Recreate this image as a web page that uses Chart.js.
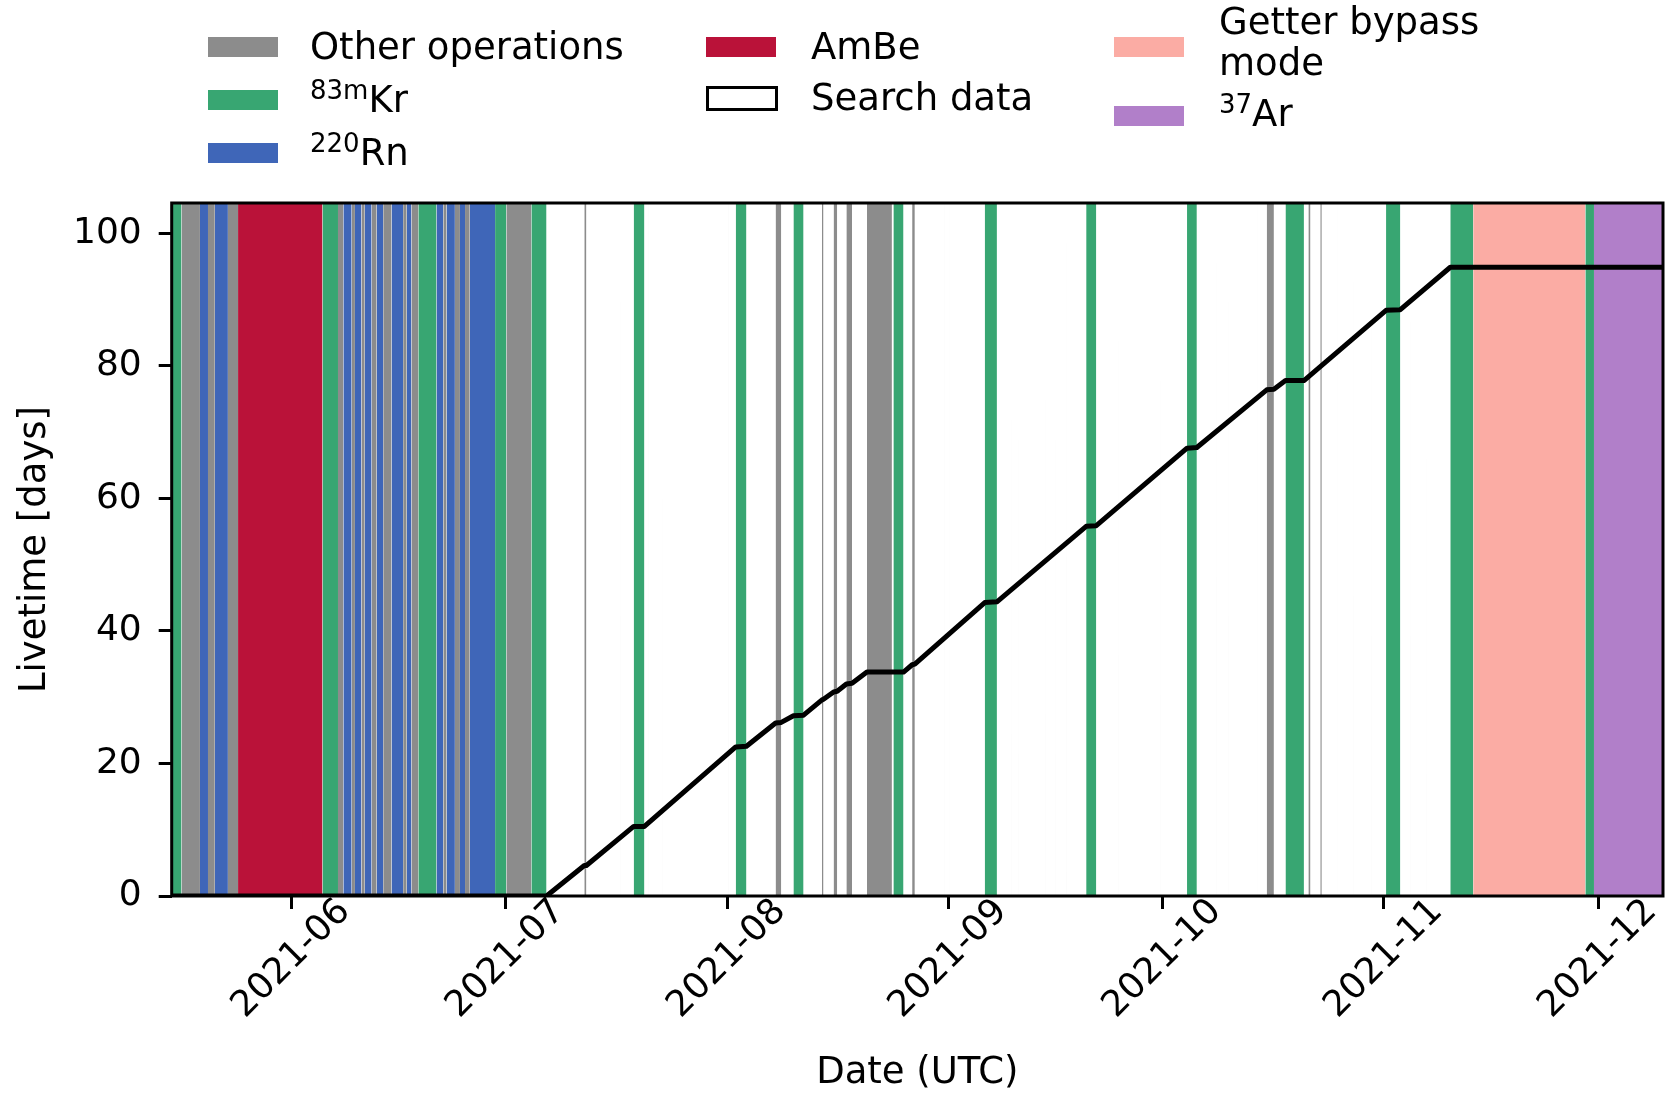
<!DOCTYPE html>
<html>
<head>
<meta charset="utf-8">
<script src="https://cdn.jsdelivr.net/npm/chart.js@4.4.1/dist/chart.umd.min.js"></script>
<style>
  body { margin: 0; background: #fff; font-family: "DejaVu Sans", sans-serif; }
  #wrap { position: relative; width: 1666px; height: 1096px; }
  #legend > span { position: absolute; }
  .sw { width: 70px; height: 20px; }
  .outline { width: 72px; height: 25px; box-sizing: border-box; border: 3px solid #000; background: #fff; }
  .lab { font-size: 37px; line-height: 37px; color: #000; white-space: nowrap; }
  .lab sup { font-size: 26px; line-height: 0; vertical-align: 13px; }
</style>
</head>
<body>
<div id="wrap">
  <canvas id="c" width="1666" height="1096"></canvas>
  <div id="legend">
    <span class="sw" style="left:208px;top:37px;background:#8c8c8c"></span>
    <span class="lab" style="left:310px;top:28px">Other operations</span>
    <span class="sw" style="left:208px;top:90px;background:#38a672"></span>
    <span class="lab" style="left:310px;top:81px"><sup>83m</sup>Kr</span>
    <span class="sw" style="left:208px;top:143px;background:#3f66b8"></span>
    <span class="lab" style="left:310px;top:134px"><sup>220</sup>Rn</span>

    <span class="sw" style="left:706px;top:37px;background:#ba1239"></span>
    <span class="lab" style="left:811px;top:28px">AmBe</span>
    <span class="outline" style="left:706px;top:86px"></span>
    <span class="lab" style="left:811px;top:79px">Search data</span>

    <span class="sw" style="left:1114px;top:37px;background:#fbaca4"></span>
    <span class="lab" style="left:1219px;top:3px">Getter bypass</span>
    <span class="lab" style="left:1219px;top:44px">mode</span>
    <span class="sw" style="left:1114px;top:106px;background:#b17fc9"></span>
    <span class="lab" style="left:1219px;top:95px"><sup>37</sup>Ar</span>
  </div>
</div>
<script>
// axis extent and ticks
const monthTicks = ['2021-06', '2021-07', '2021-08', '2021-09', '2021-10', '2021-11', '2021-12'];
const yTicks = [0, 20, 40, 60, 80, 100];
const xStart = '2021-05-15 05:00';
const xEnd = '2021-12-10 02:00';
const yTop = 104.6;

// detector periods, [start, end] in UTC
const otherBands = [
  ['2021-05-16 14:00', '2021-05-19 04:00'],
  ['2021-05-20 07:00', '2021-05-21 06:00'],
  ['2021-05-23 02:00', '2021-05-24 12:00'],
  ['2021-06-07 12:00', '2021-06-08 06:00'],
  ['2021-06-09 10:00', '2021-06-09 21:00'],
  ['2021-06-10 19:00', '2021-06-11 06:00'],
  ['2021-06-12 05:00', '2021-06-12 22:00'],
  ['2021-06-13 20:00', '2021-06-15 00:00'],
  ['2021-06-16 15:00', '2021-06-17 03:00'],
  ['2021-06-17 19:00', '2021-06-18 18:00'],
  ['2021-06-22 06:00', '2021-06-22 17:00'],
  ['2021-06-23 21:00', '2021-06-24 14:00'],
  ['2021-06-25 07:00', '2021-06-25 23:00'],
  ['2021-07-01 02:00', '2021-07-04 14:00'],
  ['2021-07-12 00:00', '2021-07-12 07:00'],
  ['2021-08-07 19:00', '2021-08-08 14:00'],
  ['2021-08-14 07:00', '2021-08-14 12:00'],
  ['2021-08-15 22:00', '2021-08-16 10:00'],
  ['2021-08-17 17:00', '2021-08-18 12:00'],
  ['2021-08-20 14:00', '2021-08-24 02:00'],
  ['2021-08-26 22:00', '2021-08-27 07:00'],
  ['2021-10-15 14:00', '2021-10-16 14:00'],
  ['2021-10-21 10:00', '2021-10-21 17:00'],
  ['2021-10-23 02:00', '2021-10-23 07:00']
];
// short interruptions inside search data
const briefOps = [
  ['2021-07-17 00:00', '2021-07-17 00:30'],
  ['2021-07-20 22:00', '2021-07-20 22:30'],
  ['2021-07-23 00:00', '2021-07-23 00:30'],
  ['2021-08-01 03:00', '2021-08-01 03:30'],
  ['2021-08-07 00:00', '2021-08-07 00:30'],
  ['2021-08-31 12:00', '2021-08-31 12:30'],
  ['2021-09-01 05:00', '2021-09-01 05:30'],
  ['2021-09-09 21:00', '2021-09-09 21:30'],
  ['2021-09-10 18:00', '2021-09-10 18:30'],
  ['2021-09-14 13:00', '2021-09-14 13:30'],
  ['2021-09-15 23:00', '2021-09-15 23:30'],
  ['2021-09-17 14:00', '2021-09-17 14:30'],
  ['2021-09-24 18:00', '2021-09-24 18:30'],
  ['2021-09-30 16:00', '2021-09-30 16:30'],
  ['2021-10-08 14:00', '2021-10-08 14:30'],
  ['2021-10-10 04:00', '2021-10-10 04:30'],
  ['2021-10-14 05:00', '2021-10-14 05:30'],
  ['2021-10-25 10:00', '2021-10-25 10:30'],
  ['2021-10-27 16:00', '2021-10-27 16:30'],
  ['2021-10-30 07:00', '2021-10-30 07:30'],
  ['2021-11-04 16:00', '2021-11-04 16:30'],
  ['2021-11-07 00:00', '2021-11-07 00:30']
];
const krBands = [
  ['2021-05-15 05:00', '2021-05-16 14:00'],
  ['2021-06-05 08:00', '2021-06-07 12:00'],
  ['2021-06-18 18:00', '2021-06-21 07:00'],
  ['2021-06-29 12:00', '2021-07-01 02:00'],
  ['2021-07-04 14:00', '2021-07-06 17:00'],
  ['2021-07-18 22:00', '2021-07-20 10:00'],
  ['2021-08-02 05:00', '2021-08-03 17:00'],
  ['2021-08-10 07:00', '2021-08-11 17:00'],
  ['2021-08-24 07:00', '2021-08-25 17:00'],
  ['2021-09-06 02:00', '2021-09-07 19:00'],
  ['2021-09-20 07:00', '2021-09-21 17:00'],
  ['2021-10-04 10:00', '2021-10-05 19:00'],
  ['2021-10-18 05:00', '2021-10-20 19:00'],
  ['2021-11-01 07:00', '2021-11-03 07:00'],
  ['2021-11-10 07:00', '2021-11-13 12:00'],
  ['2021-11-29 05:00', '2021-11-30 10:00']
];
const rnBands = [
  ['2021-05-19 04:00', '2021-05-20 07:00'],
  ['2021-05-21 06:00', '2021-05-23 02:00'],
  ['2021-06-08 06:00', '2021-06-09 10:00'],
  ['2021-06-09 21:00', '2021-06-10 19:00'],
  ['2021-06-11 06:00', '2021-06-12 05:00'],
  ['2021-06-12 22:00', '2021-06-13 20:00'],
  ['2021-06-15 00:00', '2021-06-16 15:00'],
  ['2021-06-17 03:00', '2021-06-17 19:00'],
  ['2021-06-21 07:00', '2021-06-22 06:00'],
  ['2021-06-22 17:00', '2021-06-23 21:00'],
  ['2021-06-24 14:00', '2021-06-25 07:00'],
  ['2021-06-25 23:00', '2021-06-29 12:00']
];
const ambeBands = [['2021-05-24 12:00', '2021-06-05 08:00']];
const getterBands = [['2021-11-13 12:00', '2021-11-29 05:00']];
const arBands = [['2021-11-30 10:00', '2021-12-12 00:00']];

// accumulated search livetime
const livetimeDates = [
  '2021-05-15 05:00', '2021-07-06 17:00', '2021-07-12 00:00', '2021-07-12 07:00',
  '2021-07-18 22:00', '2021-07-20 10:00', '2021-08-02 05:00', '2021-08-03 17:00',
  '2021-08-07 19:00', '2021-08-08 14:00', '2021-08-10 07:00', '2021-08-11 17:00',
  '2021-08-14 07:00', '2021-08-14 12:00', '2021-08-15 22:00', '2021-08-16 10:00',
  '2021-08-17 17:00', '2021-08-18 12:00', '2021-08-20 14:00', '2021-08-25 17:00',
  '2021-08-26 22:00', '2021-08-27 07:00', '2021-09-06 02:00', '2021-09-07 19:00',
  '2021-09-20 07:00', '2021-09-21 17:00', '2021-10-04 10:00', '2021-10-05 19:00',
  '2021-10-15 14:00', '2021-10-16 14:00', '2021-10-18 05:00', '2021-10-20 19:00',
  '2021-11-01 07:00', '2021-11-03 07:00', '2021-11-10 07:00', '2021-12-10 02:00'
];
const livetimeDays = [
  0, 0, 4.6, 4.6,
  10.5, 10.5, 22.5, 22.6,
  26.1, 26.2, 27.2, 27.3,
  29.6, 29.7, 30.8, 30.9,
  32.0, 32.1, 33.8, 33.8,
  34.9, 35.0, 44.3, 44.4,
  55.8, 55.9, 67.6, 67.7,
  76.4, 76.5, 77.8, 77.8,
  88.4, 88.5, 94.9, 94.9
];

const t = s => Date.parse(s.replace(' ', 'T') + ':00Z');
const FONT = 'DejaVu Sans';

// each period becomes a flat top segment filled down to zero
function bandPoints(bands) {
  const pts = [];
  bands.slice().sort((p, q) => t(p[0]) - t(q[0])).forEach(([a, b]) => {
    pts.push({x: t(a), y: yTop}, {x: t(b), y: yTop}, {x: t(b), y: null});
  });
  return pts;
}
function band(label, bands, color) {
  return {
    label, data: bandPoints(bands), backgroundColor: color,
    borderColor: 'transparent', borderWidth: 0, pointRadius: 0,
    fill: 'origin', spanGaps: false, order: 2
  };
}

const frameAndMonths = {
  id: 'frameAndMonths',
  afterDatasetsDraw(chart) {
    const {ctx, chartArea: a} = chart;
    ctx.save();
    ctx.strokeStyle = '#000';
    ctx.lineWidth = 3;
    ctx.strokeRect(a.left, a.top, a.right - a.left, a.bottom - a.top);
    ctx.restore();
  },
  afterDraw(chart) {
    const {ctx} = chart;
    const x = chart.scales.x;
    ctx.save();
    ctx.font = '36px "' + FONT + '"';
    ctx.fillStyle = '#000';
    ctx.textAlign = 'center';
    ctx.textBaseline = 'middle';
    monthTicks.forEach(m => {
      const px = x.getPixelForValue(t(m + '-01 00:00'));
      ctx.save();
      ctx.translate(px, 959);
      ctx.rotate(-Math.PI / 4);
      ctx.fillText(m, 0, 0);
      ctx.restore();
    });
    ctx.restore();
  }
};

new Chart(document.getElementById('c'), {
  type: 'line',
  data: {
    datasets: [
      {
        label: 'Search data',
        data: livetimeDates.map((d, i) => ({x: t(d), y: livetimeDays[i]})),
        borderColor: '#000', borderWidth: 5, pointRadius: 0, fill: false,
        borderJoinStyle: 'round', order: 0
      },
      band('Other operations', otherBands.concat(briefOps), '#8c8c8c'),
      band('83mKr', krBands, '#38a672'),
      band('220Rn', rnBands, '#3f66b8'),
      band('AmBe', ambeBands, '#ba1239'),
      band('Getter bypass mode', getterBands, '#fbaca4'),
      band('37Ar', arBands, '#b17fc9')
    ]
  },
  options: {
    responsive: false,
    animation: false,
    devicePixelRatio: 1,
    layout: {padding: {top: 203, right: 3, bottom: 0, left: 0}},
    plugins: {legend: {display: false}, tooltip: {enabled: false}},
    scales: {
      x: {
        type: 'linear',
        min: t(xStart),
        max: t(xEnd),
        afterBuildTicks: s => { s.ticks = monthTicks.map(m => ({value: t(m + '-01 00:00')})); },
        afterFit: s => { s.height = 200; },
        ticks: {display: false},
        grid: {drawOnChartArea: false, color: '#000', lineWidth: 3, tickLength: 13},
        border: {display: false},
        title: {display: true, text: 'Date (UTC)', color: '#000', font: {family: FONT, size: 37}, padding: 0}
      },
      y: {
        min: 0,
        max: yTop,
        afterBuildTicks: s => { s.ticks = yTicks.map(v => ({value: v})); },
        afterFit: s => { s.width = 171.7; },
        ticks: {color: '#000', font: {family: FONT, size: 36}, padding: 17},
        grid: {drawOnChartArea: false, color: '#000', lineWidth: 3, tickLength: 13},
        border: {display: false},
        title: {display: true, text: 'Livetime [days]', color: '#000', font: {family: FONT, size: 37}, padding: {top: 13, bottom: 0}}
      }
    }
  },
  plugins: [frameAndMonths]
});
</script>
</body>
</html>
